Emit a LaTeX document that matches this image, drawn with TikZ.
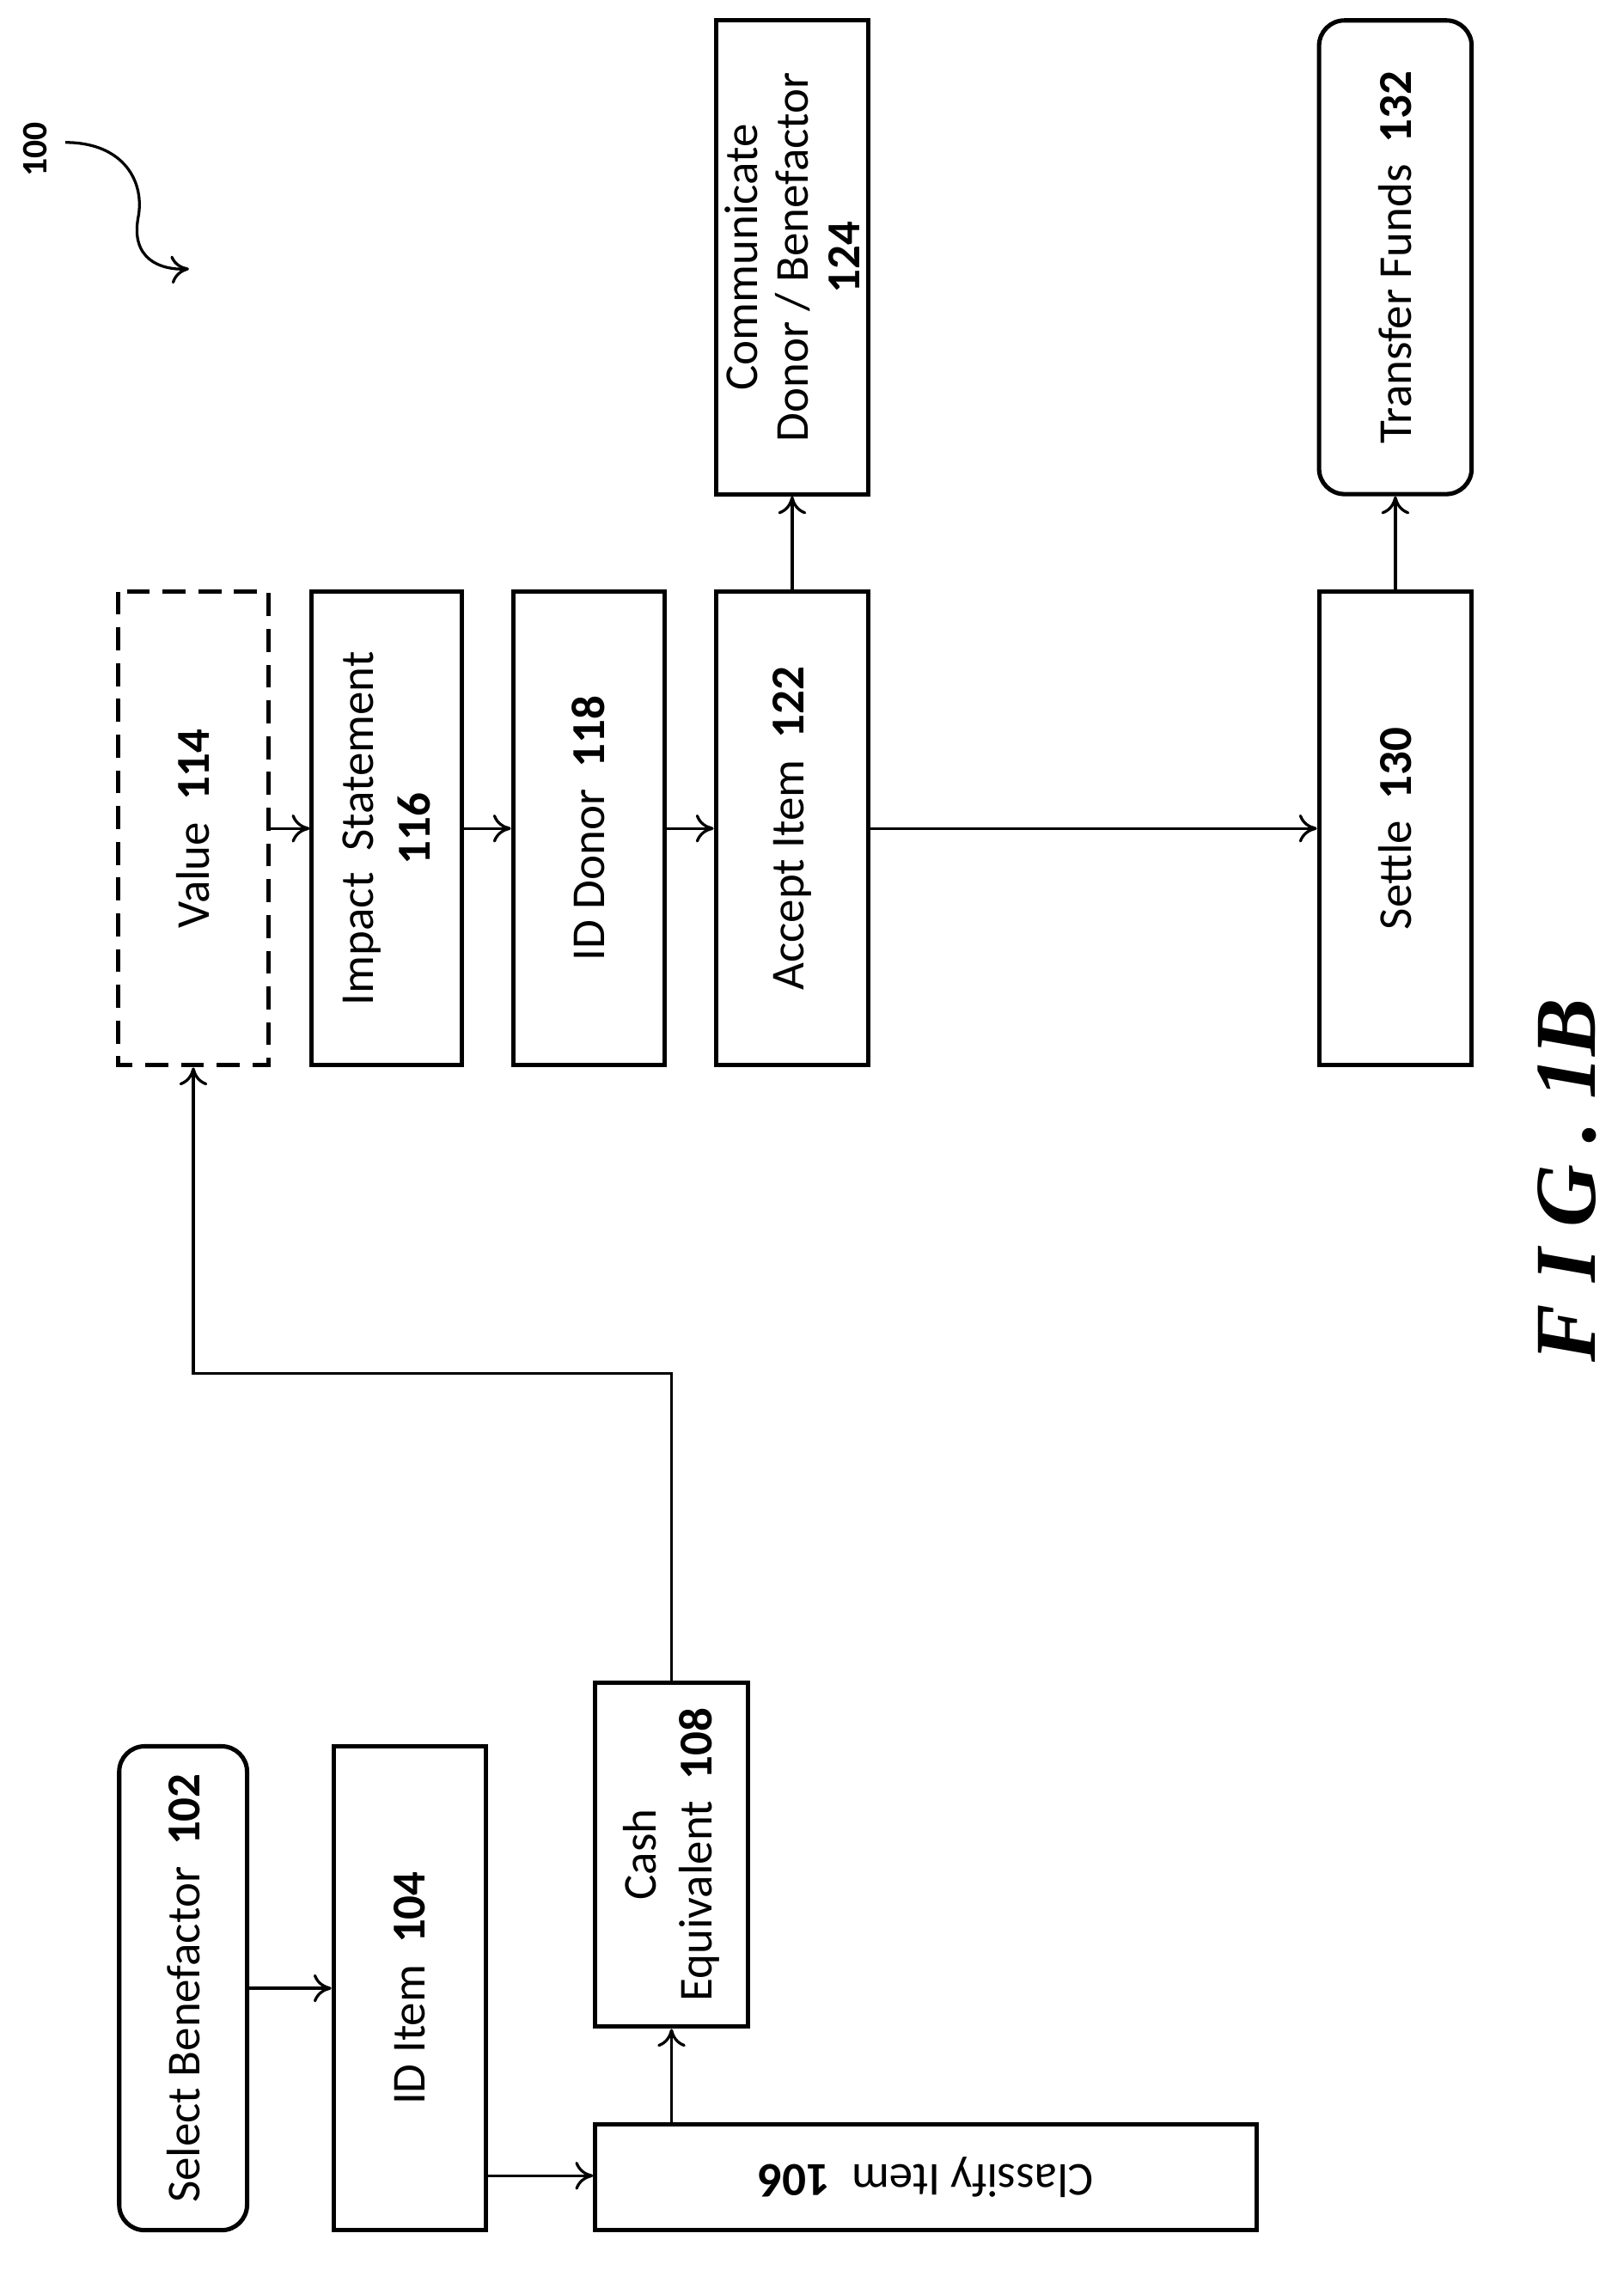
\documentclass[tikz,border=0pt]{standalone}
\usepackage{fontspec}
\setmainfont{Carlito}
\usetikzlibrary{arrows.meta,calc}
\begin{document}
\begin{tikzpicture}[x=0.02cm,y=-0.02cm,
  box/.style={draw,line width=1.7pt,rotate=90,align=center,inner sep=0pt,font=\fontsize{18.5}{22}\selectfont},
  arr/.style={line width=1.1pt,-{To[length=7pt,width=11pt]}}]
\useasboundingbox (0,0) rectangle (1117,1566);
\node[box,rounded corners=0.35cm,minimum width=6.66cm,minimum height=1.76cm] (n102) at (126,1368) {Select Benefactor\ \ \textbf{102}};
\node[box,minimum width=6.66cm,minimum height=2.1cm] (n104) at (282,1368) {ID Item\ \ \textbf{104}};
\node[box,rotate=90,minimum width=9.1cm,minimum height=1.46cm] (n106) at (637,1498) {Classify Item\ \ \textbf{106}};
\node[box,minimum width=4.74cm,minimum height=2.1cm] (n108) at (462,1276) {Cash\\Equivalent\ \ \textbf{108}};
\node[box,dash pattern=on 9pt off 5pt,minimum width=6.52cm,minimum height=2.06cm] (n114) at (133,570) {Value\ \ \textbf{114}};
\node[box,minimum width=6.52cm,minimum height=2.06cm] (n116) at (266,570) {Impact\ \ Statement\\\textbf{116}};
\node[box,minimum width=6.52cm,minimum height=2.08cm] (n118) at (405,570) {ID Donor\ \ \textbf{118}};
\node[box,minimum width=6.52cm,minimum height=2.1cm] (n122) at (545,570) {Accept Item\ \ \textbf{122}};
\node[box,font=\fontsize{18.5}{20}\selectfont,minimum width=6.52cm,minimum height=2.1cm] (n124) at (545,177) {Communicate\\Donor / Benefactor\\\textbf{124}};
\node[box,minimum width=6.52cm,minimum height=2.1cm] (n130) at (960,570) {Settle\ \ \textbf{130}};
\node[box,rounded corners=0.35cm,minimum width=6.52cm,minimum height=2.1cm] (n132) at (960,177) {Transfer Funds\ \ \textbf{132}};
\draw[arr] (n102.south) -- (n104.north);
\draw[arr] (n104.south |- 0,1497) -- (n106.east |- 0,1497);
\draw[arr] (n106.south -| n108.west) -- (n108.west);
\draw[arr] (n108.east) -- (n108.east |- 0,945) -| (n114.west);
\draw[arr] (n114.south) -- (n116.north);
\draw[arr] (n116.south) -- (n118.north);
\draw[arr] (n118.south) -- (n122.north);
\draw[arr] (n122.south) -- (n130.north);
\draw[arr] (n122.east) -- (n124.west);
\draw[arr] (n130.east) -- (n132.west);
\node[rotate=90,font=\fontsize{14}{16}\selectfont\bfseries] (l100) at (24,103) {100};
\coordinate (c100) at (130,185);
\draw[arr] (45,98) .. controls (85,98) and (100,125) .. (95,150) .. controls (90,178) and (110,186) .. (c100);
\node[rotate=90,font=\fontsize{34}{40}\selectfont] (fig) at (1078,812) {\setmainfont{Liberation Serif}\bfseries\itshape F I G .\ 1B};
\end{tikzpicture}
\end{document}
